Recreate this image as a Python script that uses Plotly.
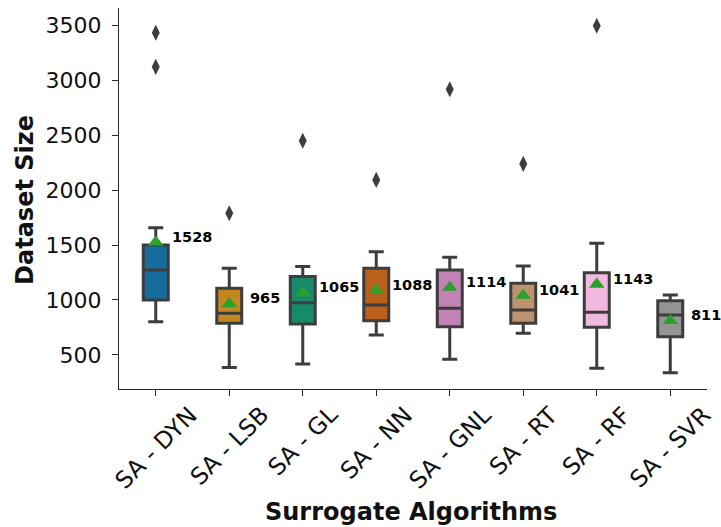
import plotly.graph_objects as go

categories = ["SA - DYN", "SA - LSB", "SA - GL", "SA - NN", "SA - GNL", "SA - RT", "SA - RF", "SA - SVR"]
lower_fence = [802, 386, 417, 681, 459, 696, 377, 337]
q1_vals = [1000, 788, 781, 811, 757, 788, 751, 665]
medians = [1273, 879, 975, 954, 924, 909, 888, 863]
q3_vals = [1501, 1107, 1213, 1289, 1273, 1152, 1249, 994]
upper_fence = [1659, 1289, 1304, 1440, 1389, 1310, 1517, 1046]
means = [1528, 965, 1065, 1088, 1114, 1041, 1143, 811]
outlier_x = [0, 0, 1, 2, 3, 4, 5, 6]
outlier_y = [3434, 3124, 1790, 2450, 2094, 2920, 2240, 3498]
y_ticks = [500, 1000, 1500, 2000, 2500, 3000, 3500]

colors = ["#176d9c", "#c38820", "#168b6a", "#ba611b", "#c183b5", "#bd926e", "#f1b8e0", "#949494"]
edge = "#3d3d3d"
txt = "#111111"
axis_col = "#262626"
font_family = "DejaVu Sans"

fig = go.Figure()
for i, cat in enumerate(categories):
    fig.add_trace(go.Box(
        x=[i], q1=[q1_vals[i]], median=[medians[i]], q3=[q3_vals[i]],
        lowerfence=[lower_fence[i]], upperfence=[upper_fence[i]],
        width=0.34, whiskerwidth=0.6, boxpoints=False,
        fillcolor=colors[i], line=dict(color=edge, width=3),
        name=cat, showlegend=False,
    ))

fig.add_trace(go.Scatter(
    x=outlier_x, y=outlier_y, mode="markers",
    marker=dict(symbol="diamond-tall", size=11.5, color=edge, line=dict(width=0)),
    showlegend=False,
))
fig.add_trace(go.Scatter(
    x=list(range(len(categories))), y=means, mode="markers",
    marker=dict(symbol="triangle-up", size=13.5, color="#2ca02c", line=dict(width=0)),
    showlegend=False,
))

annotations = []
for i, m in enumerate(means):
    annotations.append(dict(
        x=i + 0.49, y=m, xref="x", yref="y", text=f"<b>{m}</b>",
        showarrow=False, xanchor="center", yanchor="middle", yshift=5.5,
        font=dict(family=font_family, size=14.5, color="black"),
    ))
for i, cat in enumerate(categories):
    annotations.append(dict(
        x=i, y=-0.024, xref="x", yref="paper", text=cat, textangle=-45,
        showarrow=False, xanchor="center", yanchor="top",
        font=dict(family=font_family, size=23.5, color=txt),
    ))
annotations.append(dict(
    x=0.4974, y=-0.323, xref="paper", yref="paper", text="<b>Surrogate Algorithms</b>",
    showarrow=False, xanchor="center", yanchor="middle",
    font=dict(family=font_family, size=24, color=txt),
))
annotations.append(dict(
    x=-0.16, y=0.496, xref="paper", yref="paper", text="<b>Dataset Size</b>", textangle=-90,
    showarrow=False, xanchor="center", yanchor="middle",
    font=dict(family=font_family, size=24, color=txt),
))

fig.update_layout(
    width=721, height=527,
    margin=dict(l=119, r=14, t=8, b=138),
    paper_bgcolor="white", plot_bgcolor="white",
    boxmode="overlay",
    font=dict(family=font_family, color=txt),
    annotations=annotations,
)
fig.update_xaxes(
    range=[-0.5, 7.5], tickvals=list(range(len(categories))), showticklabels=False,
    ticks="outside", ticklen=6, tickwidth=1.3, tickcolor=axis_col,
    showline=True, linecolor=axis_col, linewidth=1.3, showgrid=False, zeroline=False,
)
fig.update_yaxes(
    range=[189, 3660], tickvals=y_ticks,
    ticks="outside", ticklen=6, tickwidth=1.3, tickcolor=axis_col,
    tickfont=dict(family=font_family, size=22, color=txt), ticklabelstandoff=6,
    showline=True, linecolor=axis_col, linewidth=1.3, showgrid=False, zeroline=False,
)

fig.write_html("out.html", config={"displayModeBar": False},
               post_script="document.body.style.margin='0';")
